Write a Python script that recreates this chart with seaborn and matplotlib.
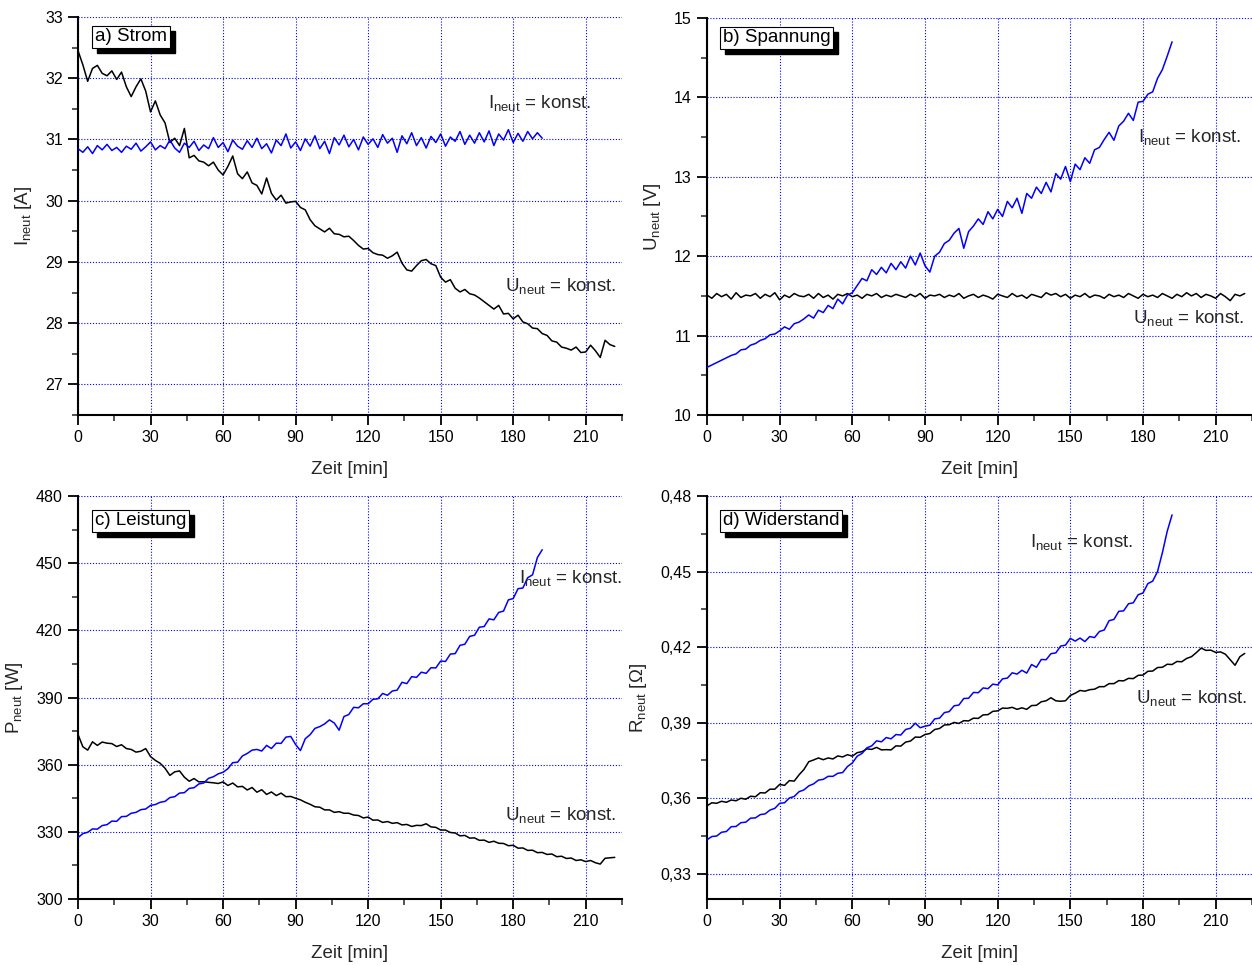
import numpy as np
import pandas as pd
import matplotlib
matplotlib.use("Agg")
import matplotlib.pyplot as plt
from matplotlib.patches import Rectangle
from matplotlib.ticker import MultipleLocator, FuncFormatter, FixedLocator
import seaborn as sns

# ---------------- data (2-min sampling) ----------------
# a) Strom [A]
strom_I_konst = [30.85, 30.79, 30.88, 30.77, 30.90, 30.83, 30.92, 30.82, 30.87, 30.79,
                 30.89, 30.84, 30.94, 30.81, 30.88, 30.96, 30.83, 30.90, 30.85, 30.99,
                 30.86, 30.79, 30.94, 30.87, 30.97, 30.82, 30.91, 30.85, 31.03, 30.87,
                 30.95, 30.80, 30.99, 30.89, 30.84, 30.98, 30.87, 31.02, 30.85, 30.93,
                 30.78, 30.99, 30.90, 31.09, 30.86, 30.96, 30.82, 31.01, 30.89, 31.06,
                 30.85, 30.97, 30.77, 31.03, 30.91, 31.07, 30.88, 31.00, 30.83, 31.04,
                 30.92, 31.01, 30.87, 31.08, 30.94, 31.02, 30.79, 31.06, 30.93, 31.11,
                 30.90, 31.03, 30.86, 31.05, 30.95, 31.09, 30.89, 31.04, 30.97, 31.13,
                 30.92, 31.07, 30.94, 31.11, 30.96, 31.14, 30.90, 31.09, 30.99, 31.16,
                 30.95, 31.10, 30.97, 31.13, 31.01, 31.11, 31.02]
strom_U_konst = [32.45, 32.22, 31.95, 32.16, 32.21, 32.08, 32.04, 32.12, 31.98, 32.10,
                 31.86, 31.70, 31.86, 31.99, 31.79, 31.45, 31.63, 31.40, 31.27, 30.95,
                 31.02, 30.90, 31.18, 30.70, 30.74, 30.65, 30.63, 30.57, 30.63, 30.50,
                 30.42, 30.56, 30.73, 30.44, 30.36, 30.47, 30.29, 30.25, 30.11, 30.37,
                 30.12, 30.01, 30.09, 29.96, 29.98, 29.99, 29.89, 29.85, 29.69, 29.59,
                 29.54, 29.49, 29.55, 29.46, 29.45, 29.41, 29.42, 29.35, 29.27, 29.21,
                 29.22, 29.15, 29.12, 29.11, 29.06, 29.10, 29.16, 28.98, 28.87, 28.85,
                 28.94, 29.02, 29.04, 28.97, 28.94, 28.75, 28.67, 28.71, 28.57, 28.51,
                 28.55, 28.48, 28.46, 28.41, 28.35, 28.29, 28.23, 28.29, 28.15, 28.16,
                 28.07, 28.13, 28.02, 27.99, 27.92, 27.91, 27.83, 27.80, 27.71, 27.69,
                 27.61, 27.59, 27.56, 27.61, 27.52, 27.53, 27.64, 27.55, 27.44, 27.72,
                 27.65, 27.62]
# b) Spannung [V]
spannung_I_konst = [10.60, 10.63, 10.66, 10.69, 10.72, 10.75, 10.77, 10.82, 10.83, 10.88,
                    10.90, 10.94, 10.96, 11.01, 11.02, 11.06, 11.11, 11.08, 11.15, 11.17,
                    11.21, 11.26, 11.22, 11.32, 11.29, 11.38, 11.34, 11.46, 11.40, 11.51,
                    11.54, 11.63, 11.72, 11.69, 11.83, 11.77, 11.86, 11.79, 11.91, 11.83,
                    11.93, 11.85, 12.00, 11.89, 12.04, 11.88, 11.80, 12.00, 12.05, 12.16,
                    12.20, 12.29, 12.35, 12.10, 12.31, 12.38, 12.47, 12.40, 12.56, 12.47,
                    12.59, 12.50, 12.69, 12.61, 12.73, 12.54, 12.79, 12.73, 12.87, 12.79,
                    12.93, 12.81, 13.04, 12.97, 13.13, 12.94, 13.16, 13.09, 13.24, 13.17,
                    13.34, 13.37, 13.47, 13.56, 13.46, 13.64, 13.70, 13.80, 13.71, 13.94,
                    13.95, 14.04, 14.07, 14.24, 14.35, 14.52, 14.70]
spannung_U_konst = [11.51, 11.47, 11.53, 11.49, 11.52, 11.46, 11.54, 11.48, 11.51, 11.50,
                    11.53, 11.47, 11.52, 11.49, 11.54, 11.45, 11.51, 11.48, 11.53, 11.50,
                    11.49, 11.52, 11.47, 11.53, 11.48, 11.51, 11.46, 11.52, 11.50, 11.53,
                    11.49, 11.51, 11.47, 11.52, 11.50, 11.53, 11.48, 11.51, 11.49, 11.52,
                    11.50, 11.48, 11.52, 11.49, 11.53, 11.47, 11.51, 11.50, 11.52, 11.48,
                    11.51, 11.49, 11.53, 11.47, 11.50, 11.52, 11.48, 11.51, 11.49, 11.46,
                    11.52, 11.50, 11.48, 11.53, 11.49, 11.51, 11.47, 11.52, 11.50, 11.48,
                    11.54, 11.51, 11.53, 11.49, 11.52, 11.47, 11.51, 11.49, 11.53, 11.48,
                    11.51, 11.50, 11.47, 11.52, 11.49, 11.51, 11.48, 11.53, 11.50, 11.47,
                    11.52, 11.49, 11.51, 11.48, 11.53, 11.50, 11.47, 11.52, 11.49, 11.54,
                    11.50, 11.53, 11.48, 11.52, 11.50, 11.47, 11.53, 11.49, 11.44, 11.52,
                    11.50, 11.53]
# c) Leistung [W]
leistung_I_konst = [327.4, 329.2, 329.8, 331.3, 331.2, 332.8, 333.2, 334.8, 334.7, 336.8,
                    336.9, 338.3, 338.7, 339.9, 340.2, 341.8, 342.2, 343.2, 343.6, 345.3,
                    345.7, 347.3, 347.5, 349.4, 349.7, 351.4, 351.8, 353.9, 354.6, 355.9,
                    356.6, 358.2, 360.9, 361.1, 363.9, 365.0, 366.5, 366.8, 366.1, 368.6,
                    367.2, 369.6, 369.5, 372.3, 372.6, 369.0, 366.3, 371.6, 373.4, 376.2,
                    377.0, 378.2, 380.0, 378.6, 375.4, 381.5, 382.4, 385.6, 385.4, 387.2,
                    387.2, 389.2, 389.4, 391.8, 391.0, 392.9, 393.3, 396.8, 396.2, 399.3,
                    399.0, 401.3, 400.8, 403.3, 403.2, 406.3, 406.1, 409.4, 409.6, 413.3,
                    413.8, 417.3, 417.8, 421.4, 421.7, 425.1, 424.7, 428.0, 428.6, 433.6,
                    434.2, 438.6, 438.9, 443.5, 444.8, 452.5, 456.0]
leistung_U_konst = [373.5, 368.0, 366.5, 370.2, 368.6, 370.1, 369.6, 369.4, 368.1, 368.9,
                    367.2, 366.8, 365.6, 366.0, 367.2, 363.6, 361.9, 360.6, 358.4, 355.2,
                    356.8, 357.2, 354.4, 352.6, 353.8, 352.3, 352.4, 352.1, 351.9, 351.6,
                    352.3, 350.7, 351.8, 350.1, 350.3, 348.7, 349.8, 347.7, 348.8, 346.7,
                    347.8, 346.2, 347.3, 345.7, 345.8, 345.0, 344.3, 343.2, 342.3, 341.2,
                    341.0, 339.8, 339.8, 338.7, 339.0, 338.3, 338.3, 337.5, 337.3, 336.2,
                    336.6, 335.2, 335.3, 334.2, 334.6, 333.8, 334.1, 333.1, 333.3, 332.4,
                    332.9, 332.8, 333.6, 332.2, 332.0, 330.8, 330.8, 329.7, 329.5, 328.2,
                    328.4, 327.2, 327.3, 326.2, 326.3, 325.3, 325.8, 324.9, 324.8, 323.8,
                    324.0, 322.7, 322.8, 321.7, 321.8, 320.7, 320.8, 319.9, 320.1, 318.9,
                    319.1, 318.1, 318.3, 317.2, 317.5, 316.7, 317.2, 316.2, 315.6, 318.2,
                    318.4, 318.6]
# d) Widerstand [Ohm]
widerstand_I_konst = [0.3435, 0.3448, 0.3450, 0.3465, 0.3468, 0.3487, 0.3488, 0.3503, 0.3505, 0.3521,
                      0.3522, 0.3535, 0.3538, 0.3553, 0.3560, 0.3580, 0.3582, 0.3601, 0.3607, 0.3626,
                      0.3633, 0.3649, 0.3657, 0.3672, 0.3675, 0.3687, 0.3687, 0.3699, 0.3702, 0.3726,
                      0.3740, 0.3767, 0.3778, 0.3800, 0.3808, 0.3828, 0.3824, 0.3841, 0.3836, 0.3853,
                      0.3851, 0.3873, 0.3878, 0.3898, 0.3880, 0.3886, 0.3890, 0.3915, 0.3918, 0.3940,
                      0.3944, 0.3967, 0.3970, 0.3996, 0.3997, 0.4020, 0.4019, 0.4038, 0.4035, 0.4053,
                      0.4050, 0.4074, 0.4077, 0.4098, 0.4093, 0.4108, 0.4097, 0.4131, 0.4120, 0.4151,
                      0.4150, 0.4174, 0.4177, 0.4204, 0.4208, 0.4235, 0.4224, 0.4236, 0.4222, 0.4242,
                      0.4238, 0.4262, 0.4268, 0.4305, 0.4310, 0.4342, 0.4344, 0.4372, 0.4376, 0.4408,
                      0.4415, 0.4452, 0.4462, 0.4500, 0.4575, 0.4660, 0.4725]
widerstand_U_konst = [0.3570, 0.3582, 0.3580, 0.3588, 0.3584, 0.3593, 0.3590, 0.3600, 0.3596, 0.3608,
                      0.3606, 0.3622, 0.3621, 0.3636, 0.3636, 0.3655, 0.3651, 0.3670, 0.3668, 0.3693,
                      0.3714, 0.3745, 0.3752, 0.3760, 0.3753, 0.3760, 0.3756, 0.3768, 0.3764, 0.3773,
                      0.3767, 0.3781, 0.3785, 0.3796, 0.3794, 0.3802, 0.3792, 0.3793, 0.3792, 0.3808,
                      0.3807, 0.3823, 0.3827, 0.3843, 0.3842, 0.3853, 0.3857, 0.3873, 0.3877, 0.3891,
                      0.3892, 0.3901, 0.3897, 0.3908, 0.3907, 0.3918, 0.3917, 0.3931, 0.3932, 0.3945,
                      0.3947, 0.3958, 0.3957, 0.3961, 0.3953, 0.3959, 0.3953, 0.3968, 0.3969, 0.3983,
                      0.3987, 0.3999, 0.3987, 0.3985, 0.3987, 0.4008, 0.4017, 0.4028, 0.4025, 0.4031,
                      0.4033, 0.4043, 0.4043, 0.4055, 0.4055, 0.4067, 0.4066, 0.4076, 0.4075, 0.4088,
                      0.4089, 0.4104, 0.4105, 0.4119, 0.4120, 0.4132, 0.4131, 0.4143, 0.4142, 0.4155,
                      0.4162, 0.4178, 0.4196, 0.4187, 0.4188, 0.4179, 0.4181, 0.4172, 0.4150, 0.4128,
                      0.4162, 0.4175]

SAMPLE_STEP_MIN = 2

panel_titles = ["a) Strom", "b) Spannung", "c) Leistung", "d) Widerstand"]
y_labels = [r"$\mathregular{I_{neut}}$ [A]", r"$\mathregular{U_{neut}}$ [V]",
            r"$\mathregular{P_{neut}}$ [W]", r"$\mathregular{R_{neut}}$ [$\Omega$]"]
label_I = r"$\mathregular{I_{neut}}$ = konst."
label_U = r"$\mathregular{U_{neut}}$ = konst."

# ---------------- style ----------------
sns.set_style("white")
plt.rcParams["font.family"] = ["Liberation Sans", "DejaVu Sans"]
plt.rcParams["mathtext.fontset"] = "custom"
plt.rcParams["mathtext.rm"] = "Liberation Sans"
plt.rcParams["mathtext.it"] = "Liberation Sans:italic"
plt.rcParams["mathtext.bf"] = "Liberation Sans:bold"

fig = plt.figure(figsize=(12.52, 9.65), dpi=100)

W, H = 1252.0, 965.0
def rect(l, t, r, b):
    return [l / W, 1 - b / H, (r - l) / W, (b - t) / H]

ax_a = fig.add_axes(rect(78, 17, 622, 415))
ax_b = fig.add_axes(rect(707, 18, 1252, 415))
ax_c = fig.add_axes(rect(78, 496, 622, 899))
ax_d = fig.add_axes(rect(707, 496, 1252, 899))

def series_frame(values):
    t = np.arange(len(values)) * SAMPLE_STEP_MIN
    return pd.DataFrame({"Zeit": t, "Wert": values})

def draw(ax, u_vals, i_vals):
    sns.lineplot(data=series_frame(u_vals), x="Zeit", y="Wert", ax=ax,
                 color="black", linewidth=1.1, estimator=None, zorder=3)
    sns.lineplot(data=series_frame(i_vals), x="Zeit", y="Wert", ax=ax,
                 color="#0000ff", linewidth=1.1, estimator=None, zorder=4)

def style(ax, ylim, ymaj, ymin, ylabel, comma=False):
    ax.set_xlim(0, 225)
    ax.set_ylim(*ylim)
    ax.xaxis.set_major_locator(MultipleLocator(30))
    ax.xaxis.set_minor_locator(MultipleLocator(15))
    ax.yaxis.set_major_locator(MultipleLocator(ymaj))
    ax.yaxis.set_minor_locator(MultipleLocator(ymin))
    if comma:
        ax.yaxis.set_major_formatter(FuncFormatter(lambda v, p: f"{v:.2f}".replace(".", ",")))
    for s in ["top", "right"]:
        ax.spines[s].set_visible(False)
    for s in ["left", "bottom"]:
        ax.spines[s].set_color("black")
        ax.spines[s].set_linewidth(1.5)
    ax.tick_params(which="major", direction="out", length=7, width=1.3,
                   labelsize=11.5, colors="black", left=True, bottom=True, pad=4)
    ax.tick_params(which="minor", direction="out", length=4, width=1.1,
                   left=True, bottom=True)
    ax.grid(True, which="major", color="#0000ff", linestyle=(0, (1, 1.6)), linewidth=0.8)
    ax.set_axisbelow(True)
    ax.set_xlabel("Zeit [min]", fontsize=13.5, labelpad=11)
    ax.set_ylabel(ylabel, fontsize=13.5, labelpad=8)
    ax.set_facecolor("white")

title_texts = []
def boxlabel(ax, s, x, y):
    t = ax.text(x, y, s, transform=ax.transAxes, fontsize=13.5, color="black", va="center",
                ha="left", zorder=11,
                bbox=dict(boxstyle="square,pad=0.15", fc="white", ec="black", lw=0.8))
    title_texts.append((ax, t))

# a)
draw(ax_a, strom_U_konst, strom_I_konst)
style(ax_a, (26.5, 33), 1, 0.5, y_labels[0])
boxlabel(ax_a, panel_titles[0], 0.031, 0.95)
ax_a.text(169.5, 31.6, label_I, fontsize=13.5, va="center", ha="left", zorder=6)
ax_a.text(176.5, 28.6, label_U, fontsize=13.5, va="center", ha="left", zorder=6)

# b)
draw(ax_b, spannung_U_konst, spannung_I_konst)
style(ax_b, (10, 15), 1, 0.5, y_labels[1])
boxlabel(ax_b, panel_titles[1], 0.029, 0.95)
ax_b.text(178, 13.5, label_I, fontsize=13.5, va="center", ha="left", zorder=6)
ax_b.text(176, 11.22, label_U, fontsize=13.5, va="center", ha="left", zorder=6)

# c)
draw(ax_c, leistung_U_konst, leistung_I_konst)
style(ax_c, (300, 480), 30, 15, y_labels[2])
boxlabel(ax_c, panel_titles[2], 0.031, 0.938)
ax_c.text(182.5, 443.5, label_I, fontsize=13.5, va="center", ha="left", zorder=6)
ax_c.text(176.5, 337.5, label_U, fontsize=13.5, va="center", ha="left", zorder=6)

# d)
draw(ax_d, widerstand_U_konst, widerstand_I_konst)
style(ax_d, (0.32, 0.48), 0.03, 0.015, y_labels[3], comma=True)
ax_d.yaxis.set_major_locator(FixedLocator([0.33, 0.36, 0.39, 0.42, 0.45, 0.48]))
ax_d.yaxis.set_minor_locator(FixedLocator([0.345, 0.375, 0.405, 0.435, 0.465]))
boxlabel(ax_d, panel_titles[3], 0.029, 0.938)
ax_d.text(133.5, 0.4617, label_I, fontsize=13.5, va="center", ha="left", zorder=6)
ax_d.text(177, 0.3998, label_U, fontsize=13.5, va="center", ha="left", zorder=6)

# drop shadows behind the panel title boxes (drawn as patches, offset 5 px)
fig.canvas.draw()
for ax, t in title_texts:
    bb = t.get_bbox_patch().get_window_extent(fig.canvas.get_renderer())
    shadow = Rectangle((bb.x0 + 5, bb.y0 - 5), bb.width, bb.height,
                       transform=None, facecolor="black", edgecolor="black",
                       zorder=10, clip_on=False)
    ax.add_artist(shadow)

fig.savefig("out.png", dpi=100, facecolor="white")
